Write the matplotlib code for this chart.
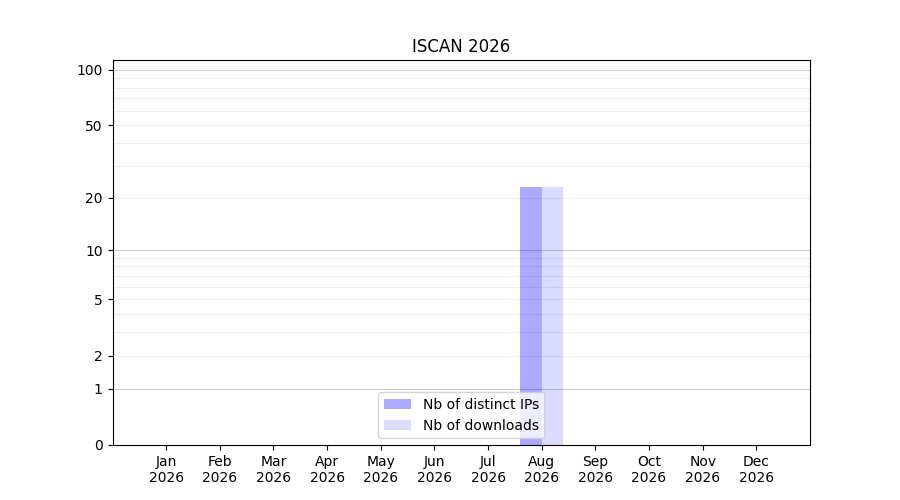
import numpy as np
import matplotlib
matplotlib.use('Agg')
import matplotlib.pyplot as plt

months = ['Jan', 'Feb', 'Mar', 'Apr', 'May', 'Jun',
          'Jul', 'Aug', 'Sep', 'Oct', 'Nov', 'Dec']
year = 2026
distinct_ips = [0, 0, 0, 0, 0, 0, 0, 23, 0, 0, 0, 0]
downloads = [0, 0, 0, 0, 0, 0, 0, 23, 0, 0, 0, 0]
y_ticks = [0, 1, 2, 5, 10, 20, 50, 100]


def forward(y):
    return np.log10(1 + np.clip(y, 0, None))


def inverse(y):
    return 10 ** y - 1


fig, ax = plt.subplots(figsize=(9, 5), dpi=100)
ax.set_yscale('function', functions=(forward, inverse))

x = np.arange(len(months))
width = 0.4

for v in [1, 10, 100]:
    ax.axhline(v, color='#cccccc', lw=0.8, zorder=0)
for v in list(range(2, 10)) + list(range(20, 100, 10)):
    ax.axhline(v, color='#eeeeee', lw=0.8, zorder=0)

ax.bar(x - width / 2, distinct_ips, width, color='blue', alpha=1 / 3,
       label='Nb of distinct IPs', zorder=1)
ax.bar(x + width / 2, downloads, width, color='blue', alpha=0.14,
       label='Nb of downloads', zorder=1)

ax.set_xticks(x)
ax.set_xticklabels([f'{m}\n{year}' for m in months])
ax.set_xlim(-1, 12)
ax.set_ylim(0, 113)
ax.set_yticks(y_ticks)
ax.set_yticklabels([str(t) for t in y_ticks])
ax.minorticks_off()
ax.set_title(f'ISCAN {year}')
ax.legend(loc='lower center')

plt.savefig('out.png')
